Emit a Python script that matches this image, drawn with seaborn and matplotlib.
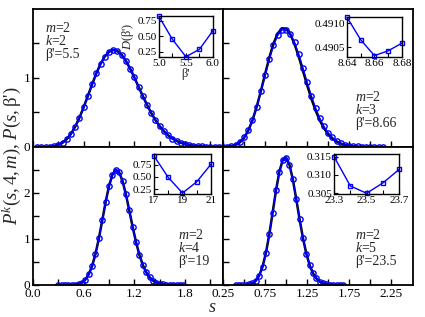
import matplotlib
matplotlib.use("Agg")
import matplotlib.pyplot as plt
import seaborn as sns
from matplotlib.ticker import FixedLocator, FormatStrFormatter

# --- main panels: spacing distributions (s, P) ---
s_k2 = [0.05, 0.10, 0.15, 0.20, 0.25, 0.30, 0.35, 0.40, 0.45, 0.50,
        0.55, 0.60, 0.65, 0.70, 0.75, 0.80, 0.85, 0.90, 0.95, 1.00,
        1.05, 1.10, 1.15, 1.20, 1.25, 1.30, 1.35, 1.40, 1.45, 1.50,
        1.55, 1.60, 1.65, 1.70, 1.75, 1.80, 1.85, 1.90, 1.95, 2.00,
        2.05, 2.10, 2.15, 2.20, 2.25]
p_k2 = [0.0000, 0.0001, 0.0008, 0.0036, 0.0114, 0.0286, 0.0606, 0.1127, 0.1896, 0.2935,
        0.4232, 0.5747, 0.7393, 0.9066, 1.066, 1.203, 1.310, 1.378, 1.405, 1.389,
        1.334, 1.247, 1.135, 1.007, 0.871, 0.737, 0.609, 0.492, 0.388, 0.300,
        0.227, 0.168, 0.122, 0.0869, 0.0607, 0.0415, 0.0279, 0.0183, 0.0119, 0.0075,
        0.0047, 0.0029, 0.0017, 0.0010, 0.0006]

s_k3 = [0.25, 0.30, 0.35, 0.40, 0.45, 0.50, 0.55, 0.60, 0.65, 0.70,
        0.75, 0.80, 0.85, 0.90, 0.95, 1.00, 1.05, 1.10, 1.15, 1.20,
        1.25, 1.30, 1.35, 1.40, 1.45, 1.50, 1.55, 1.60, 1.65, 1.70,
        1.75, 1.80, 1.85, 1.90, 1.95, 2.00, 2.05, 2.10, 2.15]
p_k3_fit = [0.0008, 0.0033, 0.0108, 0.0289, 0.0659, 0.1321, 0.2369, 0.3864, 0.5802, 0.809,
            1.055, 1.293, 1.497, 1.643, 1.718, 1.713, 1.633, 1.491, 1.310, 1.104,
            0.896, 0.701, 0.530, 0.386, 0.272, 0.186, 0.1226, 0.0783, 0.0485, 0.0291,
            0.0170, 0.0096, 0.0053, 0.0028, 0.0015, 0.0007, 0.0004, 0.0002, 0.0001]
p_k3 = [0.0012, 0.0045, 0.0135, 0.034, 0.072, 0.140, 0.245, 0.392, 0.582, 0.805,
        1.040, 1.272, 1.470, 1.615, 1.692, 1.700, 1.640, 1.515, 1.345, 1.145,
        0.940, 0.745, 0.568, 0.418, 0.297, 0.205, 0.137, 0.089, 0.056, 0.034,
        0.020, 0.0115, 0.0064, 0.0035, 0.0019, 0.0010, 0.0005, 0.0003, 0.0002]

s_k4 = [0.30, 0.34, 0.38, 0.42, 0.46, 0.50, 0.54, 0.58, 0.62, 0.66,
        0.70, 0.74, 0.78, 0.82, 0.86, 0.90, 0.94, 0.98, 1.02, 1.06,
        1.10, 1.14, 1.18, 1.22, 1.26, 1.30, 1.34, 1.38, 1.42, 1.46,
        1.50, 1.54, 1.58, 1.62, 1.66, 1.70, 1.74, 1.78]
p_k4 = [0.0000, 0.0000, 0.0001, 0.0005, 0.0021, 0.0072, 0.0206, 0.0516, 0.1148, 0.2285,
        0.411, 0.674, 1.013, 1.403, 1.800, 2.149, 2.396, 2.500, 2.452, 2.261,
        1.968, 1.619, 1.261, 0.931, 0.653, 0.436, 0.277, 0.1675, 0.0967, 0.0533,
        0.0281, 0.0141, 0.0068, 0.0031, 0.0014, 0.0006, 0.0002, 0.0001]

s_k5 = [0.40, 0.44, 0.48, 0.52, 0.56, 0.60, 0.64, 0.68, 0.72, 0.76,
        0.80, 0.84, 0.88, 0.92, 0.96, 1.00, 1.04, 1.08, 1.12, 1.16,
        1.20, 1.24, 1.28, 1.32, 1.36, 1.40, 1.44, 1.48, 1.52, 1.56,
        1.60, 1.64, 1.68]
p_k5 = [0.0000, 0.0002, 0.0009, 0.0037, 0.0127, 0.0367, 0.0922, 0.2034, 0.398, 0.697,
        1.099, 1.575, 2.057, 2.465, 2.716, 2.767, 2.612, 2.293, 1.872, 1.430,
        1.022, 0.684, 0.430, 0.254, 0.1417, 0.0744, 0.0369, 0.0173, 0.0077, 0.0032,
        0.0013, 0.0005, 0.0002]

# --- insets: D(beta') ---
beta_k2 = [5.0, 5.25, 5.5, 5.75, 6.0]
D_k2 = [0.82, 0.45, 0.17, 0.29, 0.59]
beta_k3 = [8.64, 8.65, 8.66, 8.67, 8.68]
D_k3 = [0.49112, 0.49065, 0.49032, 0.49042, 0.49058]
beta_k4 = [17, 18, 19, 20, 21]
D_k4 = [0.93, 0.49, 0.17, 0.40, 0.76]
beta_k5 = [23.3, 23.4, 23.5, 23.6, 23.7]
D_k5 = [0.315, 0.307, 0.305, 0.3078, 0.3115]

sns.set_theme(style="ticks")
plt.rcParams.update({
    "font.family": ["Liberation Serif", "DejaVu Serif"],
    "mathtext.fontset": "custom",
    "mathtext.rm": "Liberation Serif",
    "mathtext.it": "Liberation Serif:italic",
    "mathtext.bf": "Liberation Serif:bold",
    "axes.linewidth": 1.3,
    "axes.edgecolor": "black",
    "xtick.color": "black",
    "ytick.color": "black",
})

fig, axes = plt.subplots(2, 2, figsize=(4.25, 3.17), dpi=100, sharex="col", sharey="row")
fig.subplots_adjust(left=0.0776, right=0.972, top=0.972, bottom=0.101, wspace=0, hspace=0)

BLUE = "#0000ff"


def draw_panel(ax, s, p, p_fit):
    sns.lineplot(x=s, y=p_fit, ax=ax, color="black", lw=1.8, sort=False)
    sns.lineplot(x=s, y=p, ax=ax, color=BLUE, lw=0.9, sort=False, marker="o",
                 markersize=3.8, markerfacecolor="none", markeredgecolor=BLUE,
                 markeredgewidth=1.0)


draw_panel(axes[0, 0], s_k2, p_k2, p_k2)
draw_panel(axes[0, 1], s_k3, p_k3, p_k3_fit)
draw_panel(axes[1, 0], s_k4, p_k4, p_k4)
draw_panel(axes[1, 1], s_k5, p_k5, p_k5)

# axis ranges and ticks
axes[0, 0].set_xlim(0, 2.25)
axes[0, 1].set_xlim(0.25, 2.51)
axes[0, 0].set_ylim(0, 2.0)
axes[1, 0].set_ylim(0, 3.0)

axes[1, 0].xaxis.set_major_locator(FixedLocator([0.0, 0.6, 1.2, 1.8]))
axes[1, 0].xaxis.set_minor_locator(FixedLocator([0.3, 0.9, 1.5, 2.1]))
axes[1, 0].xaxis.set_major_formatter(FormatStrFormatter("%.1f"))
axes[1, 1].xaxis.set_major_locator(FixedLocator([0.25, 0.75, 1.25, 1.75, 2.25]))
axes[1, 1].xaxis.set_minor_locator(FixedLocator([0.5, 1.0, 1.5, 2.0]))
axes[1, 1].xaxis.set_major_formatter(FormatStrFormatter("%.2f"))
axes[0, 0].yaxis.set_major_locator(FixedLocator([0, 1]))
axes[0, 0].yaxis.set_minor_locator(FixedLocator([0.5, 1.5]))
axes[1, 0].yaxis.set_major_locator(FixedLocator([0, 1, 2]))
axes[1, 0].yaxis.set_minor_locator(FixedLocator([0.5, 1.5, 2.5]))

for ax in axes.flat:
    ax.tick_params(which="both", direction="in", length=4.5, width=1.0,
                   labelsize=9.5, top=False, right=False)
    ax.tick_params(axis="y", pad=2)
    ax.tick_params(axis="x", pad=2.5)
    for sp in ax.spines.values():
        sp.set_linewidth(1.3)
        sp.set_color("black")

fig.text(0.0, 0.51, r"$P^k(s, 4, m)$, $P(s,$β'$)$", rotation=90,
         ha="left", va="center", fontsize=13.5)
fig.text(0.5, 0.016, r"$s$", ha="center", va="baseline", fontsize=13)

# panel annotations
txt = dict(fontsize=10, va="top", ha="left", linespacing=0.95)
axes[0, 0].text(0.063, 0.913, "$m$=2\n$k$=2\nβ'=5.5", transform=axes[0, 0].transAxes, **txt)
axes[0, 1].text(0.696, 0.413, "$m$=2\n$k$=3\nβ'=8.66", transform=axes[0, 1].transAxes, **txt)
axes[1, 0].text(0.762, 0.413, "$m$=2\n$k$=4\nβ'=19", transform=axes[1, 0].transAxes, **txt)
axes[1, 1].text(0.696, 0.413, "$m$=2\n$k$=5\nβ'=23.5", transform=axes[1, 1].transAxes, **txt)


def draw_inset(rect, b, d, xlim, ylim, xmaj, xmin, ymaj, xfmt, yfmt):
    ins = fig.add_axes(rect)
    sns.lineplot(x=b, y=d, ax=ins, color=BLUE, lw=1.0, marker="s", markersize=3.5,
                 markerfacecolor="none", markeredgecolor=BLUE, markeredgewidth=1.0,
                 clip_on=False)
    ins.set_xlim(*xlim)
    ins.set_ylim(*ylim)
    ins.xaxis.set_major_locator(FixedLocator(xmaj))
    ins.xaxis.set_minor_locator(FixedLocator(xmin))
    ins.yaxis.set_major_locator(FixedLocator(ymaj))
    ins.xaxis.set_major_formatter(FormatStrFormatter(xfmt))
    ins.yaxis.set_major_formatter(FormatStrFormatter(yfmt))
    ins.tick_params(which="both", direction="in", length=3, width=0.8,
                    labelsize=8, pad=1.5, top=False, right=False)
    for sp in ins.spines.values():
        sp.set_linewidth(1.0)
        sp.set_color("black")
    return ins


in1 = draw_inset([0.374, 0.820, 0.127, 0.129], beta_k2, D_k2, (5.0, 6.0), (0.165, 0.825),
                 [5.0, 5.5, 6.0], [5.25, 5.75], [0.25, 0.50, 0.75], "%.1f", "%.2f")
in1.set_xlabel("β'", fontsize=9, labelpad=0)
in1.set_ylabel("$D$(β')", fontsize=9, labelpad=1)
draw_inset([0.8165, 0.820, 0.129, 0.126], beta_k3, D_k3, (8.64, 8.68), (0.49029, 0.491125),
           [8.64, 8.66, 8.68], [8.65, 8.67], [0.4905, 0.4910], "%.2f", "%.4f")
draw_inset([0.3624, 0.388, 0.134, 0.126], beta_k4, D_k4, (17, 21), (0.15, 0.97),
           [17, 19, 21], [18, 20], [0.25, 0.50, 0.75], "%d", "%.2f")
draw_inset([0.786, 0.388, 0.153, 0.126], beta_k5, D_k5, (23.3, 23.7), (0.3048, 0.3157),
           [23.3, 23.5, 23.7], [23.4, 23.6], [0.305, 0.310, 0.315], "%.1f", "%.3f")

fig.savefig("out.png", dpi=100)
